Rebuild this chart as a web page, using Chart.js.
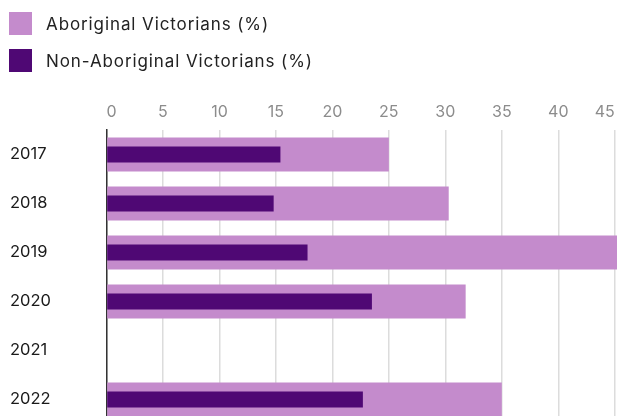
<!DOCTYPE html>
<html>
<head>
<meta charset="utf-8">
<script src="https://cdn.jsdelivr.net/npm/chart.js@4/dist/chart.umd.min.js"></script>
<style>
  html, body { margin: 0; padding: 0; background: #fff; overflow: hidden; }
  #wrap { position: relative; width: 617px; height: 424px; }
  #legend { position: absolute; left: 9px; top: 12px; font-family: Inter, sans-serif; font-size: 17px; letter-spacing: 0.9px; color: #222; }
  .legend-row { display: flex; align-items: center; height: 23px; margin-bottom: 14px; }
  .swatch { width: 23px; height: 23px; margin-right: 14px; }
</style>
</head>
<body>
<div id="wrap">
  <canvas id="chart" width="617" height="424"></canvas>
  <div id="legend"></div>
</div>
<script>
const years = ["2017", "2018", "2019", "2020", "2021", "2022"];
const aboriginal = [25.0, 30.3, 46.0, 31.8, null, 35.0];
const nonAboriginal = [15.4, 14.8, 17.8, 23.5, null, 22.7];
const xTicks = [0, 5, 10, 15, 20, 25, 30, 35, 40, 45];

const LIGHT = "#c48bcc";
const DARK = "#4f0874";

const seriesNames = ["Aboriginal Victorians (%)", "Non-Aboriginal Victorians (%)"];
const seriesColors = [LIGHT, DARK];

document.getElementById("legend").innerHTML = seriesNames
  .map((name, i) => `<div class="legend-row"><div class="swatch" style="background:${seriesColors[i]}"></div><span>${name}</span></div>`)
  .join("");

new Chart(document.getElementById("chart").getContext("2d"), {
  type: "bar",
  data: {
    labels: years,
    datasets: [
      {
        label: seriesNames[0],
        data: aboriginal,
        backgroundColor: LIGHT,
        grouped: false,
        order: 2, // drawn underneath the narrow bars
        categoryPercentage: 1,
        barPercentage: 0.69,
      },
      {
        label: seriesNames[1],
        data: nonAboriginal,
        backgroundColor: DARK,
        grouped: false,
        order: 1,
        categoryPercentage: 1,
        barPercentage: 0.33,
      },
    ],
  },
  options: {
    indexAxis: "y",
    responsive: false,
    animation: false,
    layout: { padding: { top: 100, left: 10, right: 0, bottom: 0 } },
    plugins: {
      legend: { display: false },
      tooltip: { enabled: false },
    },
    scales: {
      x: {
        position: "top",
        min: 0,
        max: 45.2,
        afterBuildTicks: (scale) => { scale.ticks = xTicks.map((v) => ({ value: v })); },
        afterFit: (scale) => {
          scale.height = 30;
          scale.paddingLeft = 0;
          scale.paddingRight = 0;
        },
        ticks: {
          align: "inner",
          padding: 8,
          color: "#8c8c8c",
          font: { family: "Inter", size: 16 },
        },
        grid: { color: "#dcdcdc", lineWidth: 1.5, drawTicks: false },
        border: { display: false },
      },
      y: {
        afterFit: (scale) => {
          scale.width = 96.5;
          scale.paddingTop = 0;
          scale.paddingBottom = 0;
        },
        ticks: {
          crossAlign: "far",
          color: "#1a1a1a",
          font: { family: "Inter", size: 16.5 },
        },
        grid: { display: false },
        border: { display: true, color: "#333", width: 1.5 },
      },
    },
  },
});
</script>
</body>
</html>
